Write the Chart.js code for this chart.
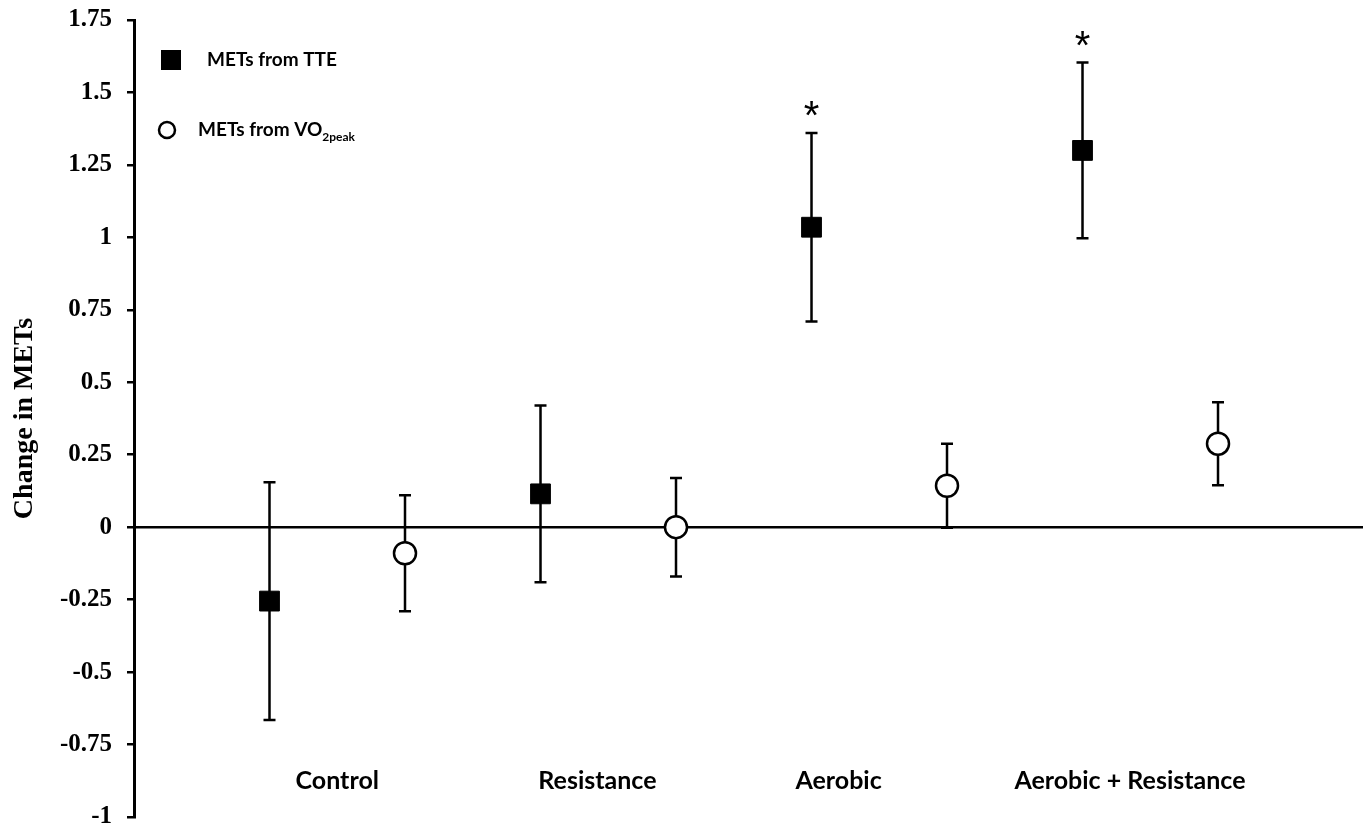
<!DOCTYPE html>
<html>
<head>
<meta charset="utf-8">
<script src="https://cdn.jsdelivr.net/npm/chart.js@4.4.0/dist/chart.umd.min.js"></script>
<style>
  html, body { margin: 0; padding: 0; background: #fff; overflow: hidden; }
  canvas { display: block; }
</style>
</head>
<body>
<canvas id="chart" width="1363" height="835"></canvas>
<script>
// groups along the x axis, each with a TTE point then a VO2peak point
const groups = ['Control', 'Resistance', 'Aerobic', 'Aerobic + Resistance'];
const groupLabelAt = [1.5, 3.42, 5.2, 7.35];
const tteX = [1, 3, 5, 7];
const vo2X = [2, 4, 6, 8];

// change in METs (mean) and error bar half-length
const tteMean = [-0.255, 0.115, 1.035, 1.30];
const tteErr = [0.41, 0.305, 0.325, 0.303];
const vo2Mean = [-0.09, 0.0, 0.143, 0.288];
const vo2Err = [0.2, 0.17, 0.145, 0.143];

// significance markers (on TTE series)
const significant = [false, false, true, true];

const yTicks = [1.75, 1.5, 1.25, 1, 0.75, 0.5, 0.25, 0, -0.25, -0.5, -0.75, -1];
const yTickLabels = ['1.75', '1.5', '1.25', '1', '0.75', '0.5', '0.25', '0', '-0.25', '-0.5', '-0.75', '-1'];

const toPoints = (xs, ys) => xs.map((x, i) => ({ x: x, y: ys[i] }));

const errorBars = {
  id: 'errorBars',
  beforeDatasetsDraw(chart) {
    const { ctx, scales: { x, y } } = chart;
    ctx.save();
    ctx.strokeStyle = '#000';
    ctx.lineWidth = 2.5;
    const draw = (xs, means, errs) => {
      xs.forEach((xv, i) => {
        const px = x.getPixelForValue(xv);
        const top = y.getPixelForValue(means[i] + errs[i]);
        const bot = y.getPixelForValue(means[i] - errs[i]);
        ctx.beginPath();
        ctx.moveTo(px, top); ctx.lineTo(px, bot);
        ctx.moveTo(px - 6, top); ctx.lineTo(px + 6, top);
        ctx.moveTo(px - 6, bot); ctx.lineTo(px + 6, bot);
        ctx.stroke();
      });
    };
    draw(tteX, tteMean, tteErr);
    draw(vo2X, vo2Mean, vo2Err);
    ctx.restore();
  }
};

const extras = {
  id: 'extras',
  afterDraw(chart) {
    const { ctx, scales: { x, y } } = chart;
    ctx.save();
    ctx.fillStyle = '#000';

    // asterisks over significant changes
    ctx.font = '40px "Liberation Sans"';
    ctx.textAlign = 'center';
    ctx.textBaseline = 'alphabetic';
    tteX.forEach((xv, i) => {
      if (!significant[i]) return;
      const top = y.getPixelForValue(tteMean[i] + tteErr[i]);
      ctx.fillText('*', x.getPixelForValue(xv), top - 4);
    });

    // group labels, below the data
    ctx.font = 'bold 25px Lato';
    ctx.textBaseline = 'middle';
    groups.forEach((g, i) => {
      ctx.fillText(g, x.getPixelForValue(groupLabelAt[i]), y.getPixelForValue(-0.875));
    });

    // legend
    const lx = 171;
    ctx.fillRect(lx - 10, 50, 20, 20);
    ctx.beginPath();
    ctx.arc(lx - 4, 130, 8, 0, Math.PI * 2);
    ctx.fillStyle = '#fff';
    ctx.fill();
    ctx.lineWidth = 2.5;
    ctx.strokeStyle = '#000';
    ctx.stroke();
    ctx.fillStyle = '#000';
    ctx.textAlign = 'left';
    ctx.font = 'bold 19px Lato';
    ctx.fillText('METs from TTE', 207, 60);
    ctx.fillText('METs from VO', 198, 130);
    const w = ctx.measureText('METs from VO').width;
    ctx.font = 'bold 12px Lato';
    ctx.fillText('2peak', 198 + w, 137);
    ctx.restore();
  }
};

new Chart(document.getElementById('chart'), {
  type: 'scatter',
  data: {
    datasets: [
      {
        label: 'METs from TTE',
        data: toPoints(tteX, tteMean),
        pointStyle: 'rect',
        pointRadius: 14,
        pointHoverRadius: 14,
        backgroundColor: '#000',
        borderColor: '#000',
        borderWidth: 1
      },
      {
        label: 'METs from VO2peak',
        data: toPoints(vo2X, vo2Mean),
        pointStyle: 'circle',
        pointRadius: 11,
        pointHoverRadius: 11,
        backgroundColor: '#fff',
        borderColor: '#000',
        borderWidth: 2.5
      }
    ]
  },
  options: {
    responsive: false,
    animation: false,
    layout: { autoPadding: false, padding: { top: 20, right: 0, bottom: 18, left: 0 } },
    plugins: {
      legend: { display: false },
      tooltip: { enabled: false }
    },
    scales: {
      x: {
        type: 'linear',
        min: 0,
        max: 9.07,
        display: false
      },
      y: {
        min: -1,
        max: 1.75,
        afterBuildTicks: (axis) => { axis.ticks = yTicks.map(v => ({ value: v })); },
        afterFit: (axis) => {
          axis.width = 134;
          axis.paddingTop = 0;
          axis.paddingBottom = 0;
        },
        ticks: {
          color: '#000',
          font: { family: '"Liberation Serif"', weight: 'bold', size: 25 },
          padding: 15,
          callback: (value) => yTickLabels[yTicks.indexOf(value)]
        },
        grid: {
          drawOnChartArea: true,
          color: (c) => (c.tick && c.tick.value === 0 ? '#000' : 'rgba(0,0,0,0)'),
          lineWidth: 2.5,
          tickColor: '#000',
          tickWidth: 2.5,
          tickLength: 7
        },
        border: { display: true, color: '#000', width: 3 },
        title: {
          display: true,
          text: 'Change in METs',
          color: '#000',
          font: { family: '"Liberation Serif"', weight: 'bold', size: 28 },
          padding: { top: 8, bottom: 0 }
        }
      }
    }
  },
  plugins: [errorBars, extras]
});
</script>
</body>
</html>
